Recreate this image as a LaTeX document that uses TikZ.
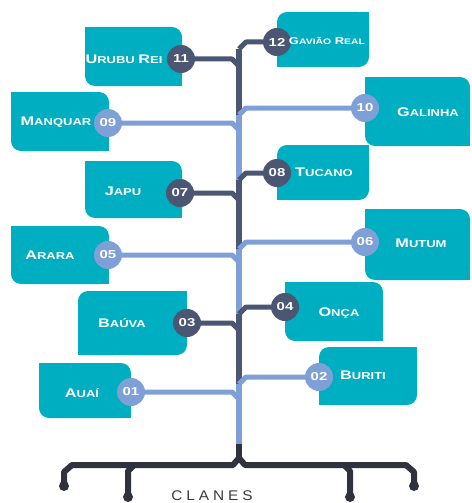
\documentclass[tikz,border=0pt]{standalone}
\usepackage{fontspec}
\newfontfamily\labfont[FakeStretch=1.3]{Liberation Sans}
\newfontfamily\clanfont[LetterSpace=28,FakeStretch=1.1]{Liberation Sans}
\definecolor{boxc}{HTML}{00AEC2}
\definecolor{darkc}{HTML}{4A5672}
\definecolor{lightc}{HTML}{7FA0D7}
\definecolor{basec}{HTML}{30333E}
\definecolor{clanc}{HTML}{3C3C40}
\newcommand\sk[2]{{\fontsize{12.5}{12.5}\selectfont #1}{\fontsize{10}{10}\selectfont #2}}
\newcommand\skk[2]{{\fontsize{10}{10}\selectfont #1}{\fontsize{8}{8}\selectfont #2}}
\newcommand\boxTR[4]{%
  \fill[boxc,rounded corners=10pt] (#1,#2) rectangle (#3,#4);
  \fill[boxc] (#1,#2) rectangle ++(12,12);
  \fill[boxc] (#3,#4) rectangle ++(-12,-12);}
\newcommand\boxTL[4]{%
  \fill[boxc,rounded corners=10pt] (#1,#2) rectangle (#3,#4);
  \fill[boxc] (#3,#2) rectangle ++(-12,12);
  \fill[boxc] (#1,#4) rectangle ++(12,-12);}
\pgfdeclarelayer{bg}
\pgfdeclarelayer{mid}
\pgfsetlayers{bg,mid,main}
\begin{document}
\begin{tikzpicture}[x=1pt,y=-1pt,
  lab/.style={font=\labfont\bfseries, text=white, inner sep=0pt},
  num/.style={circle, minimum size=28pt, inner sep=0pt, font=\labfont\bfseries\fontsize{11.5}{11.5}\selectfont, text=white},
  dnum/.style={num, fill=darkc},
  lnum/.style={num, fill=lightc},
  br/.style={line width=5pt, line join=round},
  tr/.style={line width=6pt, line join=round},
  dot/.style={circle, fill=basec, minimum size=10pt, inner sep=0pt}]
\useasboundingbox (0,0) rectangle (471,503);
% boxes
\begin{pgfonlayer}{bg}
\boxTR{85}{27}{182}{86}
\boxTR{11}{92}{109}{151}
\boxTR{85}{161}{182}{218}
\boxTR{11}{226}{109}{284}
\boxTL{78}{291}{187}{355}
\boxTR{39}{363}{131}{418}
\boxTL{277}{12}{369}{67}
\boxTR{365}{77}{470}{146}
\boxTL{277}{145}{369}{200}
\boxTR{365}{209}{470}{280}
\boxTR{285}{282}{383}{341}
\boxTL{319}{347}{417}{405}
\end{pgfonlayer}
% circles
\node[dnum] (c11) at (181,59) {11};
\node[dnum] (c12) at (277,42) {12};
\node[lnum] (c09) at (108,123) {09};
\node[lnum] (c10) at (365,108) {10};
\node[dnum] (c07) at (180,193) {07};
\node[dnum] (c08) at (277,173) {08};
\node[lnum] (c05) at (108,255) {05};
\node[lnum] (c06) at (365,242) {06};
\node[dnum] (c03) at (187,323) {03};
\node[dnum] (c04) at (285,307) {04};
\node[lnum] (c01) at (131,392) {01};
\node[lnum] (c02) at (319,377) {02};
% labels
\node[lab] (t11) at (124,59) {\sk{U}{RUBU} \sk{R}{EI}};
\node[lab] (t09) at (56,122) {\sk{M}{ANQUAR}};
\node[lab] (t07) at (123,191) {\sk{J}{APU}};
\node[lab] (t05) at (50,255) {\sk{A}{RARA}};
\node[lab] (t03) at (122,323) {\sk{B}{AÚVA}};
\node[lab] (t01) at (82,393) {\sk{A}{UAÍ}};
\node[lab] (t12) at (327,41) {\skk{G}{AVIÃO} \skk{R}{EAL}};
\node[lab] (t10) at (428,112) {\sk{G}{ALINHA}};
\node[lab] (t08) at (324,172) {\sk{T}{UCANO}};
\node[lab] (t06) at (421,243) {\sk{M}{UTUM}};
\node[lab] (t04) at (339,313) {\sk{O}{NÇA}};
\node[lab] (t02) at (363,375) {\sk{B}{URITI}};
% junction coordinates on trunk
\coordinate (j12) at (239,49);
\coordinate (j11) at (239,66);
\coordinate (j10) at (239,115);
\coordinate (j09) at (239,130);
\coordinate (j08) at (239,180);
\coordinate (j07) at (239,200);
\coordinate (j06) at (239,249);
\coordinate (j05) at (239,262);
\coordinate (j04) at (239,314);
\coordinate (j03) at (239,330);
\coordinate (j02) at (239,384);
\coordinate (j01) at (239,399);
\coordinate (jend) at (239,444);
\coordinate (split) at (239,458);
% base
\coordinate (bl) at (64,486);
\coordinate (bl2) at (128,497);
\coordinate (br2) at (350,497);
\coordinate (brr) at (414,486);
\begin{pgfonlayer}{mid}
% right branches with trunk segments
\draw[br,darkc] (c12.center) -- (246,42) -- (j12);
\draw[tr,darkc] (j12) -- (j10);
\draw[br,lightc] (c10.center) -- (246,108) -- (j10);
\draw[tr,lightc] (j10) -- (j08);
\draw[br,darkc] (c08.center) -- (246,173) -- (j08);
\draw[tr,darkc] (j08) -- (j06);
\draw[br,lightc] (c06.center) -- (246,242) -- (j06);
\draw[tr,lightc] (j06) -- (j04);
\draw[br,darkc] (c04.center) -- (246,307) -- (j04);
\draw[tr,darkc] (j04) -- (j02);
\draw[br,lightc] (c02.center) -- (246,377) -- (j02);
\draw[tr,lightc] (j02) -- (jend);
% left branches
\draw[br,darkc] (c11.center) -- (232,59) -- (j11);
\draw[br,lightc] (c09.center) -- (232,123) -- (j09);
\draw[br,darkc] (c07.center) -- (232,193) -- (j07);
\draw[br,lightc] (c05.center) -- (232,255) -- (j05);
\draw[br,darkc] (c03.center) -- (232,323) -- (j03);
\draw[br,lightc] (c01.center) -- (232,392) -- (j01);
% base
\draw[tr,basec] (jend) -- (split);
\draw[tr,basec] (split) -- (233,465) -- (72,465) -- (64,472) -- (bl);
\draw[tr,basec] (split) -- (245,465) -- (406,465) -- (414,472) -- (brr);
\draw[tr,basec] (134,465) -- (128,471) -- (bl2);
\draw[tr,basec] (344,465) -- (350,471) -- (br2);
\end{pgfonlayer}
\node[dot] (d1) at (bl) {};
\node[dot] (d2) at (bl2) {};
\node[dot] (d3) at (br2) {};
\node[dot] (d4) at (brr) {};
\node[font=\clanfont\fontsize{14}{14}\selectfont, text=clanc, anchor=base, inner sep=0pt] (clanes) at (212,500) {CLANES};
\end{tikzpicture}
\end{document}
